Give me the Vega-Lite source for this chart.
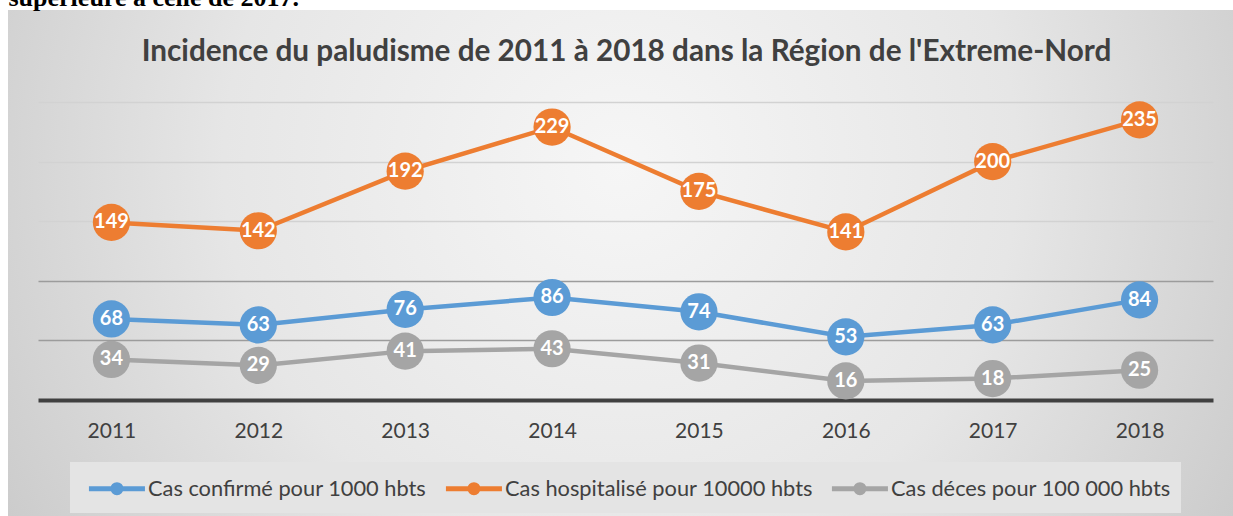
{
  "$schema": "https://vega.github.io/schema/vega-lite/v6.json",
  "autosize": "none",
  "width": 1225,
  "height": 506,
  "padding": {"left": 8, "top": 10, "right": 0, "bottom": 0},
  "background": "#ffffff",
  "view": {
    "stroke": null,
    "fill": {
      "gradient": "radial",
      "x1": 0.5, "y1": 0.42, "r1": 0,
      "x2": 0.5, "y2": 0.42, "r2": 0.72,
      "stops": [
        {"offset": 0, "color": "#f6f6f6"},
        {"offset": 0.45, "color": "#e6e6e6"},
        {"offset": 1, "color": "#bdbdbd"}
      ]
    }
  },
  "title": {
    "text": "Incidence du paludisme de 2011 à 2018 dans la Région de l'Extreme-Nord",
    "anchor": "middle",
    "frame": "group",
    "orient": "top",
    "offset": -84,
    "dx": 6,
    "font": "Lato",
    "fontSize": 29.7,
    "fontWeight": "bold",
    "color": "#404040"
  },
  "data": {
    "values": [
      {"annee": "2011", "serie": "Cas confirmé pour 1000 hbts", "valeur": 68},
      {"annee": "2012", "serie": "Cas confirmé pour 1000 hbts", "valeur": 63},
      {"annee": "2013", "serie": "Cas confirmé pour 1000 hbts", "valeur": 76},
      {"annee": "2014", "serie": "Cas confirmé pour 1000 hbts", "valeur": 86},
      {"annee": "2015", "serie": "Cas confirmé pour 1000 hbts", "valeur": 74},
      {"annee": "2016", "serie": "Cas confirmé pour 1000 hbts", "valeur": 53},
      {"annee": "2017", "serie": "Cas confirmé pour 1000 hbts", "valeur": 63},
      {"annee": "2018", "serie": "Cas confirmé pour 1000 hbts", "valeur": 84},
      {"annee": "2011", "serie": "Cas hospitalisé pour 10000 hbts", "valeur": 149},
      {"annee": "2012", "serie": "Cas hospitalisé pour 10000 hbts", "valeur": 142},
      {"annee": "2013", "serie": "Cas hospitalisé pour 10000 hbts", "valeur": 192},
      {"annee": "2014", "serie": "Cas hospitalisé pour 10000 hbts", "valeur": 229},
      {"annee": "2015", "serie": "Cas hospitalisé pour 10000 hbts", "valeur": 175},
      {"annee": "2016", "serie": "Cas hospitalisé pour 10000 hbts", "valeur": 141},
      {"annee": "2017", "serie": "Cas hospitalisé pour 10000 hbts", "valeur": 200},
      {"annee": "2018", "serie": "Cas hospitalisé pour 10000 hbts", "valeur": 235},
      {"annee": "2011", "serie": "Cas déces pour 100 000 hbts", "valeur": 34},
      {"annee": "2012", "serie": "Cas déces pour 100 000 hbts", "valeur": 29},
      {"annee": "2013", "serie": "Cas déces pour 100 000 hbts", "valeur": 41},
      {"annee": "2014", "serie": "Cas déces pour 100 000 hbts", "valeur": 43},
      {"annee": "2015", "serie": "Cas déces pour 100 000 hbts", "valeur": 31},
      {"annee": "2016", "serie": "Cas déces pour 100 000 hbts", "valeur": 16},
      {"annee": "2017", "serie": "Cas déces pour 100 000 hbts", "valeur": 18},
      {"annee": "2018", "serie": "Cas déces pour 100 000 hbts", "valeur": 25}
    ]
  },
  "encoding": {
    "x": {
      "field": "annee",
      "type": "ordinal",
      "sort": null,
      "scale": {"type": "point", "range": [30, 1205], "padding": 0.5},
      "axis": {
        "title": null,
        "orient": "bottom",
        "offset": -116,
        "domain": true,
        "domainColor": "#404040",
        "domainWidth": 4,
        "ticks": false,
        "grid": false,
        "labelAngle": 0,
        "labelPadding": 20,
        "labelFont": "Lato",
        "labelFontSize": 21,
        "labelColor": "#404040"
      }
    },
    "y": {
      "field": "valeur",
      "type": "quantitative",
      "scale": {"domain": [0, 250], "range": [390, 92], "nice": false, "zero": true},
      "axis": {
        "orient": "left",
        "values": [50, 100, 150, 200, 250],
        "domain": false,
        "ticks": false,
        "labels": false,
        "grid": true,
        "gridWidth": 1.5,
        "gridColor": {"condition": {"test": "datum.value <= 100", "value": "#9c9c9c"}, "value": "#d2d2d2"},
        "title": "supérieure à celle de 2017.",
        "titleAngle": 0,
        "titleAlign": "left",
        "titleBaseline": "alphabetic",
        "titleX": 0,
        "titleY": -5,
        "titleFont": "Liberation Serif",
        "titleFontSize": 26,
        "titleFontWeight": "bold",
        "titleColor": "#000000"
      }
    },
    "color": {
      "field": "serie",
      "type": "nominal",
      "scale": {
        "domain": ["Cas confirmé pour 1000 hbts", "Cas hospitalisé pour 10000 hbts", "Cas déces pour 100 000 hbts"],
        "range": ["#5b9bd5", "#ed7d31", "#a5a5a5"]
      },
      "legend": {
        "title": null,
        "orient": "none",
        "direction": "horizontal",
        "legendX": 62,
        "legendY": 452,
        "fillColor": "#e4e4e4",
        "padding": 10,
        "columnPadding": 8,
        "symbolType": "M-0.54,0L3.46,0M1.75,0A0.29,0.29,0,1,1,1.17,0A0.29,0.29,0,1,1,1.75,0Z",
        "symbolSize": 784,
        "symbolStrokeWidth": 5,
        "labelOffset": 35,
        "labelLimit": 500,
        "labelFont": "Lato",
        "labelFontSize": 21.8,
        "labelColor": "#404040",
        "encode": {
          "symbols": {
            "update": {
              "fill": {"scale": "color", "field": "value"},
              "stroke": {"scale": "color", "field": "value"},
              "opacity": {"value": 1}
            }
          }
        }
      }
    }
  },
  "layer": [
    {"mark": {"type": "line", "strokeWidth": 4.5}},
    {"mark": {"type": "point", "filled": true, "shape": "circle", "size": 1385, "opacity": 1}},
    {
      "mark": {"type": "text", "color": "#ffffff", "font": "Lato", "fontSize": 20, "fontWeight": "bold", "baseline": "middle", "align": "center"},
      "encoding": {"text": {"field": "valeur", "type": "quantitative"}, "color": {"value": "#ffffff"}}
    }
  ]
}
